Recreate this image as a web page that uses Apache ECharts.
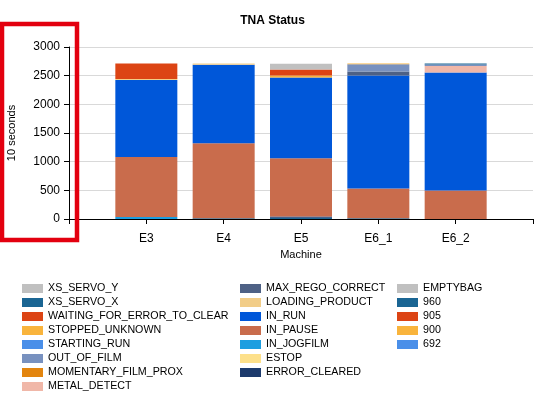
<!DOCTYPE html>
<html>
<head>
<meta charset="utf-8">
<script src="https://cdn.jsdelivr.net/npm/echarts@6/dist/echarts.min.js"></script>
<style>
  html, body { margin: 0; padding: 0; background: #fff; }
  #chart { width: 545px; height: 397px; }
</style>
</head>
<body>
<div id="chart"></div>
<script>
// categories on the x axis
var machines = ["E3", "E4", "E5", "E6_1", "E6_2"];

// series values (10 seconds), one entry per machine; stacking order bottom -> top
var s692 = [0, 0, 0, 0, 0];
var s900 = [0, 0, 0, 0, 0];
var s905 = [0, 0, 0, 0, 0];
var s960 = [0, 15, 20, 15, 0];
var emptyBag = [0, 0, 0, 0, 0];
var errorCleared = [0, 0, 25, 0, 0];
var estop = [0, 0, 0, 0, 0];
var inJogfilm = [35, 0, 0, 0, 0];
var inPause = [1045, 1306, 1013, 517, 496];
var inRun = [1346, 1368, 1409, 1970, 2058];
var loadingProduct = [18, 23, 0, 0, 0];
var maxRegoCorrect = [0, 0, 0, 70, 0];
var metalDetect = [0, 0, 0, 0, 113];
var momentaryFilmProx = [0, 0, 0, 0, 0];
var outOfFilm = [0, 0, 0, 125, 28];
var startingRun = [0, 0, 0, 0, 0];
var stoppedUnknown = [0, 0, 35, 15, 0];
var waitingForError = [268, 0, 105, 0, 0];
var xsServoX = [0, 0, 0, 0, 17];
var xsServoY = [0, 0, 100, 0, 0];

// legend columns, as listed in the picture
var legendCol1 = ["XS_SERVO_Y", "XS_SERVO_X", "WAITING_FOR_ERROR_TO_CLEAR", "STOPPED_UNKNOWN",
                  "STARTING_RUN", "OUT_OF_FILM", "MOMENTARY_FILM_PROX", "METAL_DETECT"];
var legendCol2 = ["MAX_REGO_CORRECT", "LOADING_PRODUCT", "IN_RUN", "IN_PAUSE", "IN_JOGFILM",
                  "ESTOP", "ERROR_CLEARED"];
var legendCol3 = ["EMPTYBAG", "960", "905", "900", "692"];

var seriesList = [
  { name: "692", data: s692, color: "#4a8fe9" },
  { name: "900", data: s900, color: "#f9b43c" },
  { name: "905", data: s905, color: "#dc4414" },
  { name: "960", data: s960, color: "#1a6593" },
  { name: "EMPTYBAG", data: emptyBag, color: "#c0c0c0" },
  { name: "ERROR_CLEARED", data: errorCleared, color: "#1c3a6c" },
  { name: "ESTOP", data: estop, color: "#fde08a" },
  { name: "IN_JOGFILM", data: inJogfilm, color: "#1c9ee0" },
  { name: "IN_PAUSE", data: inPause, color: "#c96c4c" },
  { name: "IN_RUN", data: inRun, color: "#0057d9" },
  { name: "LOADING_PRODUCT", data: loadingProduct, color: "#f2cd88" },
  { name: "MAX_REGO_CORRECT", data: maxRegoCorrect, color: "#4e6185" },
  { name: "METAL_DETECT", data: metalDetect, color: "#f0b7a8" },
  { name: "MOMENTARY_FILM_PROX", data: momentaryFilmProx, color: "#e3850e" },
  { name: "OUT_OF_FILM", data: outOfFilm, color: "#7891bf" },
  { name: "STARTING_RUN", data: startingRun, color: "#4a8fe9" },
  { name: "STOPPED_UNKNOWN", data: stoppedUnknown, color: "#f9b43c" },
  { name: "WAITING_FOR_ERROR_TO_CLEAR", data: waitingForError, color: "#dc4414" },
  { name: "XS_SERVO_X", data: xsServoX, color: "#1a6593" },
  { name: "XS_SERVO_Y", data: xsServoY, color: "#c0c0c0" }
];

var font = "'Liberation Sans', Arial, sans-serif";
var chart = echarts.init(document.getElementById("chart"));

// axis runs from an empty slot to an empty slot, bars sit on the ticks
var xCats = [""].concat(machines).concat([""]);

function makeLegend(names, left) {
  return {
    data: names,
    orient: "vertical",
    left: left,
    top: 283,
    height: 114,
    padding: 0,
    icon: "rect",
    itemWidth: 21,
    itemHeight: 9,
    itemGap: 3,
    textStyle: { fontSize: 10.7, color: "#000", fontFamily: font }
  };
}

var option = {
  animation: false,
  title: {
    text: "TNA Status",
    left: "center",
    top: 10,
    textStyle: { fontSize: 12, fontWeight: "bold", color: "#000", fontFamily: font }
  },
  legend: [
    makeLegend(legendCol1, 22),
    makeLegend(legendCol2, 240),
    makeLegend(legendCol3, 397)
  ],
  grid: { left: 69, right: 12, top: 47, bottom: 178, containLabel: false, outerBoundsMode: "none" },
  xAxis: {
    type: "category",
    data: xCats,
    boundaryGap: false,
    name: "Machine",
    nameLocation: "middle",
    nameGap: 30,
    nameTextStyle: { fontSize: 11, color: "#000", fontFamily: font },
    axisLine: { show: true, lineStyle: { color: "#000", width: 1 } },
    axisTick: { show: true, length: 5, interval: 0, lineStyle: { color: "#000" } },
    axisLabel: { interval: 0, margin: 14, fontSize: 12, color: "#000", fontFamily: font },
    splitLine: { show: false }
  },
  yAxis: {
    type: "value",
    min: 0,
    max: 3000,
    interval: 500,
    name: "10 seconds",
    nameLocation: "middle",
    nameGap: 52,
    nameRotate: 90,
    nameTextStyle: { fontSize: 11, color: "#000", fontFamily: font },
    axisLine: { show: true, lineStyle: { color: "#000", width: 1 } },
    axisTick: { show: true, length: 5, lineStyle: { color: "#000" } },
    axisLabel: {
      margin: 9, fontSize: 12, color: "#000", fontFamily: font,
      formatter: function (v) { return String(v); }
    },
    splitLine: { show: true, lineStyle: { color: "#d9d9d9" } }
  },
  series: seriesList.map(function (s) {
    return {
      name: s.name,
      type: "bar",
      stack: "total",
      barWidth: 62,
      itemStyle: { color: s.color },
      data: ["-"].concat(s.data).concat(["-"])
    };
  }),
  graphic: [
    {
      type: "rect",
      z: 100,
      shape: { x: 2, y: 24, width: 75, height: 216 },
      style: { fill: null, stroke: "#e3000f", lineWidth: 4.5 }
    }
  ]
};

chart.setOption(option);
</script>
</body>
</html>
